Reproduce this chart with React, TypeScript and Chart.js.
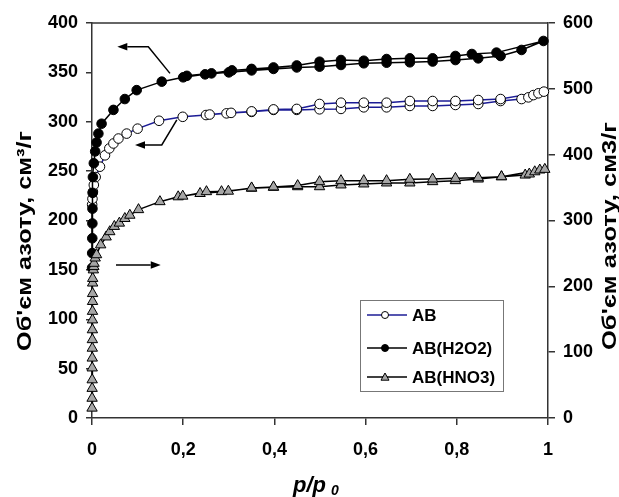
import React, { useEffect, useRef } from "react";
import { Chart, registerables } from "chart.js";

Chart.register(...registerables);

// ---------- data ----------
const xTickValues = [0, 0.2, 0.4, 0.6, 0.8, 1];
const xTickLabels = ["0", "0,2", "0,4", "0,6", "0,8", "1"];
const leftTickStep = 50;
const rightTickStep = 100;

const seriesNames = ["AB", "AB(H2O2)", "AB(HNO3)"];

// AB (left axis) – adsorption branch
const abAdsX = [0.0003, 0.001, 0.002, 0.004, 0.008, 0.0175, 0.0285, 0.038, 0.047, 0.058, 0.076, 0.1, 0.147, 0.199, 0.25, 0.295, 0.35, 0.398, 0.449, 0.499, 0.546, 0.596, 0.646, 0.697, 0.747, 0.797, 0.847, 0.896, 0.942, 0.957, 0.968, 0.979, 0.991];
const abAdsY = [216, 222, 229, 236, 244, 254.5, 266, 273, 278, 283, 288, 293, 301, 305, 306.8, 308.5, 310, 312, 312, 312.6, 313, 314.6, 314.6, 316, 316, 317, 318, 321, 323, 324.7, 327, 328.8, 330.5];
// AB – desorption branch
const abDesX = [0.896, 0.847, 0.797, 0.747, 0.697, 0.646, 0.596, 0.546, 0.499, 0.449, 0.398, 0.35, 0.305, 0.258];
const abDesY = [323, 322, 321, 321, 321, 319.3, 319.3, 319.3, 318, 313, 312.5, 310.5, 309, 307.3];

// AB(H2O2) (left axis)
const h2o2AdsX = [0.0002, 0.0004, 0.0006, 0.0008, 0.001, 0.0015, 0.002, 0.004, 0.007, 0.01, 0.014, 0.021, 0.047, 0.072, 0.098, 0.153, 0.2, 0.248, 0.3, 0.35, 0.398, 0.449, 0.499, 0.546, 0.596, 0.646, 0.697, 0.747, 0.797, 0.847, 0.896, 0.942, 0.99];
const h2o2AdsY = [152, 167, 182, 197, 212, 228, 244, 258, 270, 279, 288, 298, 312, 323, 332, 340.6, 345, 348, 350, 352, 353.5, 355, 355.8, 357.5, 359.2, 359.8, 360.2, 361, 362.5, 364.2, 366.6, 372.7, 381.8];
const h2o2DesX = [0.887, 0.833, 0.797, 0.747, 0.697, 0.646, 0.596, 0.546, 0.499, 0.449, 0.398, 0.35, 0.307, 0.262, 0.208];
const h2o2DesY = [370, 368.6, 366.6, 364.2, 364.2, 363.5, 361.8, 362.5, 360.8, 357, 355, 353.5, 352, 349, 346.5];

// AB(HNO3) (right axis)
const hno3AdsX = [0.0001, 0.0002, 0.0003, 0.0004, 0.0005, 0.0006, 0.0007, 0.0008, 0.0009, 0.001, 0.0011, 0.0012, 0.0013, 0.0014, 0.0015, 0.003, 0.004, 0.0045, 0.007, 0.01, 0.019, 0.031, 0.039, 0.049, 0.06, 0.072, 0.083, 0.102, 0.149, 0.189, 0.237, 0.284, 0.35, 0.398, 0.451, 0.499, 0.546, 0.596, 0.646, 0.697, 0.747, 0.797, 0.847, 0.898, 0.95, 0.959, 0.971, 0.982, 0.993];
const hno3AdsY = [15, 30, 45, 58, 76, 91, 106, 119, 134, 149, 162, 177, 189, 205, 212, 225, 230, 235, 243, 248, 263, 275, 283, 291, 296, 303, 308, 316.5, 328.6, 336, 341, 343.8, 349, 350.4, 351.3, 351.3, 354, 355.5, 357, 357, 359, 360.5, 363, 366.5, 369, 370.6, 374, 376.7, 377.7];
const hno3DesX = [0.898, 0.847, 0.797, 0.747, 0.697, 0.646, 0.596, 0.546, 0.499, 0.451, 0.398, 0.35, 0.299, 0.251, 0.199];
const hno3DesY = [366.5, 365, 364, 363, 362.6, 360.5, 360.5, 360.5, 359, 353, 351, 349.5, 344.5, 343.8, 337];

// annotation arrows in data coordinates (x, left-axis value)
const arrowPaths: number[][][] = [
  [[0.171, 349], [0.1235, 376], [0.0555, 376]],
  [[0.186, 301.8], [0.153, 276.5], [0.0943, 276.5]],
  [[0.0526, 155], [0.1507, 155]],
];

const FONT = '"Liberation Sans", Arial, Helvetica, sans-serif';

function pts(xs: number[], ys: number[]) {
  return xs.map((x, i) => ({ x, y: ys[i] }));
}

const decorPlugin = {
  id: "decor",
  afterDatasetsDraw(chart: any) {
    const ctx = chart.ctx;
    const xs = chart.scales.x;
    const ys = chart.scales.y;
    ctx.save();
    ctx.strokeStyle = "#000";
    ctx.fillStyle = "#000";
    ctx.lineWidth = 1.5;
    arrowPaths.forEach((path) => {
      const p = path.map(([x, y]) => [xs.getPixelForValue(x), ys.getPixelForValue(y)]);
      const n = p.length;
      const [tx, ty] = p[n - 1];
      const [px, py] = p[n - 2];
      const ang = Math.atan2(ty - py, tx - px);
      const hl = 10;
      const hw = 3.8;
      ctx.beginPath();
      ctx.moveTo(p[0][0], p[0][1]);
      for (let i = 1; i < n - 1; i++) ctx.lineTo(p[i][0], p[i][1]);
      ctx.lineTo(tx - Math.cos(ang) * hl, ty - Math.sin(ang) * hl);
      ctx.stroke();
      ctx.beginPath();
      ctx.moveTo(tx, ty);
      ctx.lineTo(tx - Math.cos(ang) * hl - Math.sin(ang) * hw, ty - Math.sin(ang) * hl + Math.cos(ang) * hw);
      ctx.lineTo(tx - Math.cos(ang) * hl + Math.sin(ang) * hw, ty - Math.sin(ang) * hl - Math.cos(ang) * hw);
      ctx.closePath();
      ctx.fill();
    });
    ctx.restore();
  },
  afterDraw(chart: any) {
    const ctx = chart.ctx;
    const a = chart.chartArea;
    ctx.save();
    // frame
    ctx.strokeStyle = "#333";
    ctx.lineWidth = 1.5;
    ctx.beginPath();
    ctx.moveTo(a.left, a.top);
    ctx.lineTo(a.right, a.top);
    ctx.stroke();

    // legend
    const lx = a.left + 268;
    const ly = a.top + 277;
    const lw = 143;
    const lh = 91;
    ctx.fillStyle = "#fff";
    ctx.fillRect(lx, ly, lw, lh);
    ctx.strokeStyle = "#777";
    ctx.lineWidth = 1;
    ctx.strokeRect(lx + 0.5, ly + 0.5, lw, lh);
    const rows = [15, 48, 77];
    chart.data.datasets.forEach((ds: any, i: number) => {
      const yy = ly + rows[i];
      ctx.strokeStyle = ds.borderColor;
      ctx.lineWidth = 1.5;
      ctx.beginPath();
      ctx.moveTo(lx + 7, yy);
      ctx.lineTo(lx + 47, yy);
      ctx.stroke();
      ctx.fillStyle = ds.pointBackgroundColor;
      ctx.strokeStyle = "#000";
      ctx.lineWidth = 1;
      const cx = lx + 25;
      if (ds.pointStyle === "triangle") {
        const r = 4;
        ctx.beginPath();
        ctx.moveTo(cx, yy - r);
        ctx.lineTo(cx + r, yy + r * 0.8);
        ctx.lineTo(cx - r, yy + r * 0.8);
        ctx.closePath();
        ctx.fill();
        ctx.stroke();
      } else {
        ctx.beginPath();
        ctx.arc(cx, yy, 3.5, 0, Math.PI * 2);
        ctx.fill();
        ctx.stroke();
      }
      ctx.fillStyle = "#000";
      ctx.font = `bold 17px ${FONT}`;
      ctx.textAlign = "left";
      ctx.textBaseline = "middle";
      ctx.fillText(ds.label, lx + 52, yy + 1);
    });

    // y titles (stretched along reading direction to fit)
    const drawRot = (text: string, cx: number, cy: number, len: number, size: number) => {
      ctx.save();
      ctx.translate(cx, cy);
      ctx.rotate(-Math.PI / 2);
      ctx.font = `bold ${size}px ${FONT}`;
      const w = ctx.measureText(text).width;
      ctx.scale(len / w, 1);
      ctx.fillStyle = "#000";
      ctx.textAlign = "center";
      ctx.textBaseline = "middle";
      ctx.fillText(text, 0, 0);
      ctx.restore();
    };
    drawRot("Об'єм азоту, см³/г", 25, 241, 220, 21);
    drawRot("Об'єм азоту, см3/г", 610, 236, 228, 21);

    // x title p/p0
    ctx.fillStyle = "#000";
    ctx.font = `italic bold 22px ${FONT}`;
    ctx.textAlign = "left";
    ctx.textBaseline = "alphabetic";
    ctx.fillText("p/p", 293, 492);
    ctx.font = `italic bold 14px ${FONT}`;
    ctx.fillText("0", 331, 495);
    ctx.restore();
  },
};

export default function App() {
  const ref = useRef<HTMLCanvasElement | null>(null);
  useEffect(() => {
    if (!ref.current) return;
    const tickFont = { family: FONT, size: 18, weight: "bold" as const };
    const chart = new Chart(ref.current, {
      type: "line",
      data: {
        datasets: [
          {
            label: seriesNames[0],
            data: pts([...abAdsX, ...abDesX], [...abAdsY, ...abDesY]),
            yAxisID: "y",
            borderColor: "#1c1c96",
            borderWidth: 1.5,
            pointStyle: "circle",
            pointRadius: 4.8,
            pointBackgroundColor: "#ffffff",
            pointBorderColor: "#000",
            pointBorderWidth: 1,
            order: 2,
            clip: false,
          },
          {
            label: seriesNames[1],
            data: pts([...h2o2AdsX, ...h2o2DesX], [...h2o2AdsY, ...h2o2DesY]),
            yAxisID: "y",
            borderColor: "#000000",
            borderWidth: 1.5,
            pointStyle: "circle",
            pointRadius: 4.8,
            pointBackgroundColor: "#000000",
            pointBorderColor: "#000",
            pointBorderWidth: 1,
            order: 1,
            clip: false,
          },
          {
            label: seriesNames[2],
            data: pts([...hno3AdsX, ...hno3DesX], [...hno3AdsY, ...hno3DesY]),
            yAxisID: "y1",
            borderColor: "#000000",
            borderWidth: 1.5,
            pointStyle: "triangle",
            pointRadius: 6,
            pointBackgroundColor: "#a6a6a6",
            pointBorderColor: "#000",
            pointBorderWidth: 1,
            order: 0,
            clip: false,
          },
        ] as any,
      },
      options: {
        animation: false,
        responsive: true,
        maintainAspectRatio: false,
        layout: { padding: { top: 23, left: 0, right: 0, bottom: 0 } },
        plugins: { legend: { display: false }, tooltip: { enabled: false } },
        elements: { line: { tension: 0 } },
        scales: {
          x: {
            type: "linear",
            min: 0,
            max: 1,
            afterBuildTicks: (s: any) => {
              s.ticks = xTickValues.map((v) => ({ value: v }));
            },
            afterFit: (s: any) => {
              s.height = 79;
            },
            ticks: {
              font: tickFont,
              color: "#000",
              padding: 14,
              maxRotation: 0,
              autoSkip: false,
              callback: (_v: any, i: number) => xTickLabels[i],
            },
            grid: { drawOnChartArea: false, tickLength: 7, color: "#333", lineWidth: 1.5 },
            border: { display: true, color: "#333", width: 1.5 },
          },
          y: {
            type: "linear",
            position: "left",
            min: 0,
            max: 400,
            afterFit: (s: any) => {
              s.width = 92;
            },
            ticks: { stepSize: leftTickStep, font: tickFont, color: "#000", padding: 8 },
            grid: { drawOnChartArea: false, tickLength: 6, color: "#333", lineWidth: 1.5 },
            border: { display: true, color: "#333", width: 1.5 },
          },
          y1: {
            type: "linear",
            position: "right",
            min: 0,
            max: 600,
            afterFit: (s: any) => {
              s.width = 71;
            },
            ticks: { stepSize: rightTickStep, font: tickFont, color: "#000", padding: 8 },
            grid: { drawOnChartArea: false, tickLength: 7, color: "#333", lineWidth: 1.5 },
            border: { display: true, color: "#333", width: 1.5 },
          },
        },
      } as any,
      plugins: [decorPlugin],
    });
    return () => chart.destroy();
  }, []);
  return (
    <div style={{ position: "fixed", left: 0, top: 0, width: 619, height: 497, background: "#fff" }}>
      <canvas ref={ref} />
    </div>
  );
}
